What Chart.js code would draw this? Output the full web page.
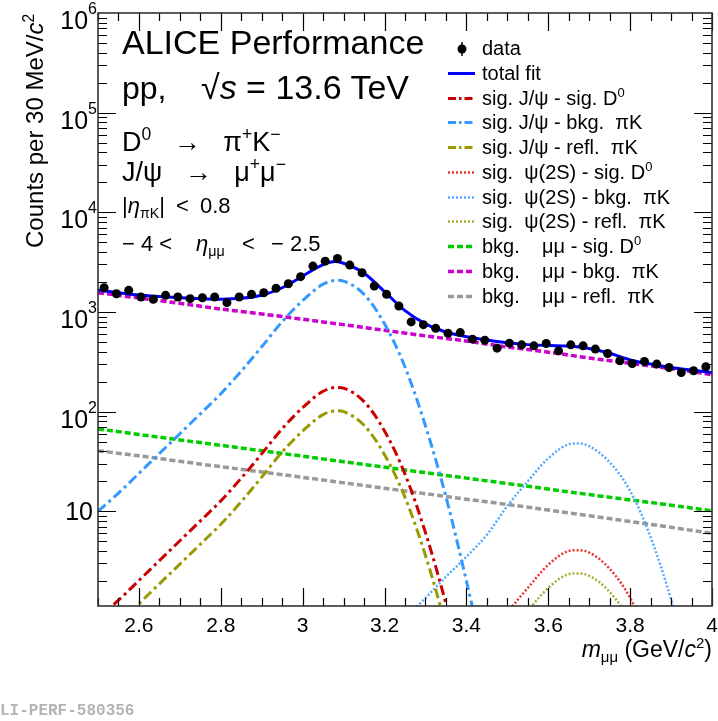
<!DOCTYPE html>
<html>
<head>
<meta charset="utf-8">
<script src="https://cdn.jsdelivr.net/npm/chart.js@4.4.0/dist/chart.umd.min.js"></script>
<style>
  body { margin: 0; background: #fff; }
  #wrap { position: relative; width: 718px; height: 721px; font-family: "Liberation Sans", Arial, sans-serif; color: #000; }
  #massChart { position: absolute; left: 0; top: 0; }
  .t { position: absolute; white-space: pre; line-height: 1; }
  .sup { font-size: 65%; position: relative; top: -0.6em; }
  .sub { font-size: 65%; position: relative; top: 0.35em; }
  .leg { position: absolute; left: 446px; height: 20px; width: 270px; }
  .leg svg { position: absolute; left: 0; top: 0; }
  .leg > span { position: absolute; left: 36px; top: 0; font-size: 20px; line-height: 1; white-space: pre; }
</style>
</head>
<body>
<div id="wrap">
  <canvas id="massChart" width="718" height="721"></canvas>

  <!-- header text -->
  <div class="t" style="left:122px;top:25px;font-size:34px">ALICE Performance</div>
  <div class="t" style="left:122px;top:72px;font-size:32px">pp,</div>
  <div class="t" style="left:201px;top:70px;font-size:34px">√<i>s</i> = 13.6 TeV</div>
  <div class="t" style="left:122px;top:129px;font-size:27px">D<span class="sup">0</span>   →   π<span class="sup">+</span>K<span class="sup">−</span></div>
  <div class="t" style="left:122px;top:159px;font-size:27px">J/ψ   →   μ<span class="sup">+</span>μ<span class="sup">−</span></div>
  <div class="t" style="left:122px;top:195px;font-size:22px">|<i>η</i><span class="sub">πK</span>|</div>
  <div class="t" style="left:176px;top:195px;font-size:22px">&lt;</div>
  <div class="t" style="left:200px;top:195px;font-size:22px">0.8</div>
  <div class="t" style="left:122px;top:233px;font-size:22px">− 4 &lt;</div>
  <div class="t" style="left:196px;top:233px;font-size:22px"><i>η</i><span class="sub">μμ</span></div>
  <div class="t" style="left:242px;top:233px;font-size:22px">&lt;</div>
  <div class="t" style="left:271px;top:233px;font-size:22px">− 2.5</div>

  <!-- legend -->
  <div class="leg" style="top:38px"><svg width="32" height="20"><line x1="16" y1="4" x2="16" y2="18" stroke="#000" stroke-width="1.5"/><circle cx="16" cy="11" r="4.5" fill="#000"/></svg><span>data</span></div>
  <div class="leg" style="top:63px"><svg width="32" height="20"><line x1="2" y1="10.5" x2="29" y2="10.5" stroke="#0000ff" stroke-width="3"/></svg><span>total fit</span></div>
  <div class="leg" style="top:88px"><svg width="32" height="20"><line x1="2" y1="10.5" x2="29" y2="10.5" stroke="#cc0000" stroke-width="3" stroke-dasharray="8 3 2.5 3"/></svg><span>sig. J/ψ - sig. D<span class="sup">0</span></span></div>
  <div class="leg" style="top:112px"><svg width="32" height="20"><line x1="2" y1="10.5" x2="29" y2="10.5" stroke="#3399ff" stroke-width="3" stroke-dasharray="8 3 2.5 3"/></svg><span>sig. J/ψ - bkg.  πK</span></div>
  <div class="leg" style="top:137px"><svg width="32" height="20"><line x1="2" y1="10.5" x2="29" y2="10.5" stroke="#999900" stroke-width="3" stroke-dasharray="8 3 2.5 3"/></svg><span>sig. J/ψ - refl.  πK</span></div>
  <div class="leg" style="top:162px"><svg width="32" height="20"><line x1="2" y1="10.5" x2="29" y2="10.5" stroke="#ee3333" stroke-width="2.5" stroke-dasharray="2 2"/></svg><span>sig.  ψ(2S) - sig. D<span class="sup">0</span></span></div>
  <div class="leg" style="top:187px"><svg width="32" height="20"><line x1="2" y1="10.5" x2="29" y2="10.5" stroke="#55aaff" stroke-width="2.5" stroke-dasharray="2 2"/></svg><span>sig.  ψ(2S) - bkg.  πK</span></div>
  <div class="leg" style="top:211px"><svg width="32" height="20"><line x1="2" y1="10.5" x2="29" y2="10.5" stroke="#aaaa33" stroke-width="2.5" stroke-dasharray="2 2"/></svg><span>sig.  ψ(2S) - refl.  πK</span></div>
  <div class="leg" style="top:236px"><svg width="32" height="20"><line x1="2" y1="10.5" x2="29" y2="10.5" stroke="#00cc00" stroke-width="3.5" stroke-dasharray="6 3"/></svg><span>bkg.    μμ - sig. D<span class="sup">0</span></span></div>
  <div class="leg" style="top:261px"><svg width="32" height="20"><line x1="2" y1="10.5" x2="29" y2="10.5" stroke="#cc00cc" stroke-width="3.5" stroke-dasharray="6 3"/></svg><span>bkg.    μμ - bkg.  πK</span></div>
  <div class="leg" style="top:286px"><svg width="32" height="20"><line x1="2" y1="10.5" x2="29" y2="10.5" stroke="#999999" stroke-width="3.5" stroke-dasharray="6 3"/></svg><span>bkg.    μμ - refl.  πK</span></div>

  <!-- axis titles -->
  <div class="t" style="left:23px;top:248px;font-size:24px;transform:rotate(-90deg);transform-origin:0 0">Counts per 30 MeV/<i>c</i><span class="sup">2</span></div>
  <div class="t" style="right:6px;top:638px;font-size:23px"><i>m</i><span class="sub">μμ</span> (GeV/<i>c</i><span class="sup">2</span>)</div>

  <div class="t" style="left:-9.6px;top:703px;font-size:16px;font-family:'Liberation Mono',monospace;font-weight:bold;color:#b4b4b4">ALI-PERF-580356</div>
</div>

<script>
// data points (bin centres, counts per 30 MeV)
const dataMass = [2.515, 2.545, 2.575, 2.605, 2.635, 2.665, 2.695, 2.725, 2.755, 2.785,
                  2.815, 2.845, 2.875, 2.905, 2.935, 2.965, 2.995, 3.025, 3.055, 3.085,
                  3.115, 3.145, 3.175, 3.205, 3.235, 3.265, 3.295, 3.325, 3.355, 3.385,
                  3.415, 3.445, 3.475, 3.505, 3.535, 3.565, 3.595, 3.625, 3.655, 3.685,
                  3.715, 3.745, 3.775, 3.805, 3.835, 3.865, 3.895, 3.925, 3.955, 3.985];
const dataCounts = [1750, 1524, 1648, 1413, 1340, 1468, 1413, 1359, 1390, 1413,
                    1239, 1413, 1503, 1560, 1725, 1919, 2260, 2884, 3236, 3443,
                    2951, 2472, 1820, 1503, 1148, 794, 745, 685, 612, 621,
                    533, 521, 433, 486, 468, 457, 482, 407, 468, 457,
                    424, 383, 324, 304, 318, 300, 277, 247, 257, 282];

// total fit
const fitMass = [2.50, 2.55, 2.60, 2.65, 2.70, 2.75, 2.80, 2.85, 2.90, 2.95, 3.00, 3.05, 3.08, 3.10,
                 3.15, 3.20, 3.25, 3.30, 3.35, 3.40, 3.45, 3.50, 3.55, 3.60, 3.65, 3.70, 3.75, 3.80,
                 3.85, 3.90, 3.95, 4.00];
const fitTotal = [1660, 1560, 1480, 1430, 1390, 1360, 1345, 1370, 1470, 1750, 2290, 2990, 3200, 3080,
                  2450, 1600, 1030, 760, 630, 565, 523, 490, 470, 460, 455, 430, 385, 330,
                  300, 277, 261, 247];

// J/psi signal components
const jpsiMass = [2.50, 2.55, 2.60, 2.65, 2.70, 2.75, 2.80, 2.85, 2.90, 2.95, 3.00, 3.05, 3.085,
                  3.10, 3.15, 3.20, 3.25, 3.30, 3.35, 3.40, 3.45];
const jpsiSigD0 = [0.84, 1.28, 2.02, 3.2, 5.06, 8.0, 12.7, 21.5, 37.7, 67.4, 109.6, 160, 175,
                   172, 126, 64, 23.6, 6.1, 1.18, 0.17, 0.021];
const jpsiBkgPiK = [10, 15.2, 24, 38, 60, 95, 151, 255, 447, 800, 1300, 1900, 2075,
                    2040, 1500, 760, 280, 72, 14, 2.0, 0.25];
const jpsiReflPiK = [0.49, 0.75, 1.18, 1.87, 2.95, 4.67, 7.4, 12.5, 22, 39.3, 63.9, 93.3, 102,
                     100, 73, 37, 13.8, 3.6, 0.69, 0.1, 0.012];

// psi(2S) signal components
const psiMass = [3.25, 3.30, 3.35, 3.40, 3.45, 3.50, 3.55, 3.60, 3.65, 3.67, 3.70, 3.75, 3.80,
                 3.85, 3.90, 3.95, 4.00];
const psiSigD0 = [0.072, 0.115, 0.19, 0.30, 0.49, 0.96, 1.7, 2.9, 4.0, 4.07, 3.85, 2.65, 1.35,
                  0.47, 0.11, 0.019, 0.0025];
const psiBkgPiK = [0.85, 1.35, 2.2, 3.5, 5.8, 11.3, 20, 34, 47, 48, 45, 31, 16,
                   5.5, 1.3, 0.22, 0.03];
const psiReflPiK = [0.042, 0.067, 0.11, 0.18, 0.29, 0.56, 1.0, 1.7, 2.34, 2.38, 2.25, 1.55, 0.79,
                    0.27, 0.064, 0.011, 0.0015];

// dimuon background components
const bkgMass = [2.5, 2.6, 2.7, 2.8, 2.9, 3.0, 3.1, 3.2, 3.3, 3.4, 3.5, 3.6, 3.7, 3.8, 3.9, 4.0];
const bkgSigD0 = [67, 59, 52, 45.9, 40.5, 35.7, 31.4, 27.7, 24.4, 21.5, 19.0, 16.7, 14.7, 13.0, 11.5, 10.1];
const bkgBkgPiK = [1560, 1380, 1220, 1070, 955, 845, 745, 655, 575, 510, 445, 395, 345, 305, 270, 235];
const bkgReflPiK = [40.5, 36, 31.7, 28, 24.8, 21.9, 19.3, 17, 15, 13.2, 11.7, 10.3, 9.0, 7.9, 6.9, 6.0];

// axis ticks
const xTickValues = [2.6, 2.8, 3.0, 3.2, 3.4, 3.6, 3.8, 4.0];
const xTickLabels = ['2.6', '2.8', '3', '3.2', '3.4', '3.6', '3.8', '4'];
const yDecadeExps = [1, 2, 3, 4, 5, 6];

const DASHDOT = [10, 4, 3, 4];
const DOTTED = [2, 2];
const DASHED = [6, 3];

function toPoints(xs, ys) {
  return xs.map((x, i) => ({ x: x, y: ys[i] }));
}

function curve(xs, ys, color, dash, width) {
  return {
    data: toPoints(xs, ys),
    showLine: true,
    borderColor: color,
    borderWidth: width,
    borderDash: dash,
    pointRadius: 0,
    cubicInterpolationMode: 'monotone',
    clip: 0
  };
}

// frame, inward ticks and tick labels in ROOT style
const frameAxes = {
  id: 'frameAxes',
  afterDraw(chart) {
    const { ctx, chartArea: a, scales: { x, y } } = chart;
    ctx.save();
    ctx.strokeStyle = '#000';
    ctx.lineWidth = 1.2;
    ctx.beginPath();
    // x ticks, bottom and top
    for (let i = 0; i <= 30; i++) {
      const v = 2.5 + i * 0.05;
      const major = xTickValues.some(t => Math.abs(t - v) < 1e-6);
      const len = major ? 18 : 8;
      const px = Math.round(x.getPixelForValue(v)) + 0.5;
      ctx.moveTo(px, a.bottom); ctx.lineTo(px, a.bottom - len);
      ctx.moveTo(px, a.top); ctx.lineTo(px, a.top + len);
    }
    // y ticks, left and right
    for (let e = 0; e <= 5; e++) {
      for (let k = 1; k <= 9; k++) {
        const v = k * Math.pow(10, e);
        if (v < y.min) continue;
        const len = k === 1 ? 18 : 9;
        const py = Math.round(y.getPixelForValue(v)) + 0.5;
        ctx.moveTo(a.left, py); ctx.lineTo(a.left + len, py);
        ctx.moveTo(a.right, py); ctx.lineTo(a.right - len, py);
      }
    }
    ctx.stroke();

    ctx.strokeStyle = '#333';
    ctx.lineWidth = 1.6;
    ctx.strokeRect(a.left, a.top, a.right - a.left, a.bottom - a.top);

    // x labels
    ctx.fillStyle = '#000';
    ctx.font = '21px "Liberation Sans"';
    ctx.textAlign = 'center';
    ctx.textBaseline = 'alphabetic';
    xTickValues.forEach((v, i) => {
      ctx.fillText(xTickLabels[i], x.getPixelForValue(v), 632);
    });

    // y labels
    ctx.textAlign = 'right';
    yDecadeExps.forEach(n => {
      const py = y.getPixelForValue(Math.pow(10, n));
      if (n === 1) {
        ctx.font = '25px "Liberation Sans"';
        ctx.fillText('10', 93, py + 9);
      } else {
        ctx.font = '16px "Liberation Sans"';
        const ew = ctx.measureText(String(n)).width;
        ctx.fillText(String(n), 97, py + 1);
        ctx.font = '25px "Liberation Sans"';
        ctx.fillText('10', 97 - ew, py + 16);
      }
    });
    ctx.restore();
  }
};

const ctx = document.getElementById('massChart').getContext('2d');
const massChart = new Chart(ctx, {
  type: 'scatter',
  data: {
    datasets: [
      {
        data: toPoints(dataMass, dataCounts),
        pointRadius: 4.5,
        pointBackgroundColor: '#000',
        pointBorderWidth: 0,
        showLine: false
      },
      curve(fitMass, fitTotal, '#0000ff', [], 3),
      curve(jpsiMass, jpsiSigD0, '#cc0000', DASHDOT, 3),
      curve(jpsiMass, jpsiBkgPiK, '#3399ff', DASHDOT, 3),
      curve(jpsiMass, jpsiReflPiK, '#999900', DASHDOT, 3),
      curve(psiMass, psiSigD0, '#ee3333', DOTTED, 2.5),
      curve(psiMass, psiBkgPiK, '#55aaff', DOTTED, 2.5),
      curve(psiMass, psiReflPiK, '#aaaa33', DOTTED, 2.5),
      curve(bkgMass, bkgSigD0, '#00cc00', DASHED, 3.5),
      curve(bkgMass, bkgBkgPiK, '#cc00cc', DASHED, 3.5),
      curve(bkgMass, bkgReflPiK, '#999999', DASHED, 3.5)
    ]
  },
  options: {
    responsive: false,
    animation: false,
    devicePixelRatio: 1,
    layout: { padding: { left: 98, top: 13, right: 6, bottom: 115 } },
    plugins: { legend: { display: false }, tooltip: { enabled: false } },
    scales: {
      x: { type: 'linear', min: 2.5, max: 4, display: false },
      y: { type: 'logarithmic', min: 1.12, max: 1e6, display: false }
    }
  },
  plugins: [frameAxes]
});
</script>
</body>
</html>
